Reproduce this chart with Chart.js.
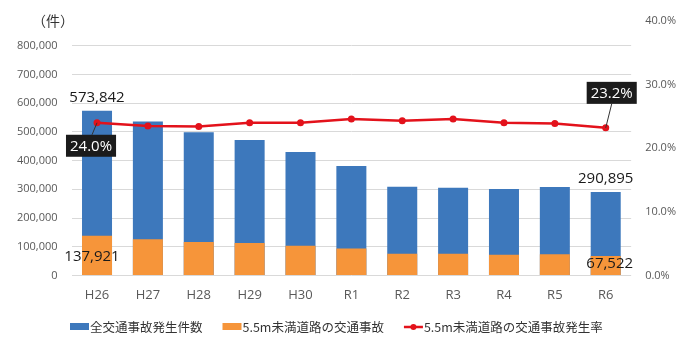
<!DOCTYPE html>
<html>
<head>
<meta charset="utf-8">
<script src="https://cdn.jsdelivr.net/npm/chart.js@4"></script>
<style>
  html, body { margin: 0; padding: 0; background: #fff; }
  #wrap { width: 690px; height: 354px; }
</style>
</head>
<body>
<div id="wrap"><canvas id="c" width="690" height="354"></canvas></div>
<script>
// 年度別 交通事故件数と5.5m未満道路の割合

const years = ['H26', 'H27', 'H28', 'H29', 'H30', 'R1', 'R2', 'R3', 'R4', 'R5', 'R6'];
const allAccidents = [573842, 536899, 499201, 472165, 430601, 381237, 309178, 305196, 300839, 307930, 290895];
const narrowRoadAccidents = [137921, 126200, 116800, 113300, 103300, 93800, 75100, 75100, 72200, 73600, 67522];
const narrowRoadRate = [24.0, 23.5, 23.4, 24.0, 24.0, 24.6, 24.3, 24.6, 24.0, 23.9, 23.2];
const leftTicks = [0, 100000, 200000, 300000, 400000, 500000, 600000, 700000, 800000];
const rightTicks = [0, 10, 20, 30, 40];

const BLUE = '#3D78BC';
const ORANGE = '#F6953A';
const RED = '#E3121B';
const FONT = "'Open Sans', 'Noto Sans CJK JP', sans-serif";
const JP_FONT = "'Noto Sans CJK JP', sans-serif";

const fmt = n => n.toLocaleString('en-US');

// 数値ラベル・凡例・単位表示
const extrasPlugin = {
    id: 'extras',
    afterDatasetsDraw(chart) {
        const ctx = chart.ctx;
        const blue = chart.getDatasetMeta(0).data;
        const orange = chart.getDatasetMeta(1).data;
        const pts = chart.getDatasetMeta(2).data;
        const first = 0;
        const last = years.length - 1;

        ctx.save();
        ctx.textAlign = 'center';
        ctx.textBaseline = 'middle';
        ctx.fillStyle = '#1a1a1a';
        ctx.font = '15px ' + FONT;
        ctx.fillText(fmt(allAccidents[first]), blue[first].x, blue[first].y - 13);
        ctx.fillText(fmt(allAccidents[last]), blue[last].x, blue[last].y - 13);
        const oc0 = (orange[first].y + orange[first].base) / 2;
        const ocN = (orange[last].y + orange[last].base) / 2;
        ctx.fillText(fmt(narrowRoadAccidents[first]), orange[first].x - 5, oc0 + 1);
        ctx.fillText(fmt(narrowRoadAccidents[last]), orange[last].x + 4, ocN - 2);

        // 発生率ラベル（黒背景）
        const drawBox = (text, cx, cy, px, py, ax, ay) => {
            ctx.strokeStyle = '#333';
            ctx.lineWidth = 1;
            ctx.beginPath();
            ctx.moveTo(ax, ay);
            ctx.lineTo(px, py);
            ctx.stroke();
            ctx.font = '15px ' + FONT;
            const w = ctx.measureText(text).width + 8;
            const h = 22;
            ctx.fillStyle = '#1b1b1b';
            ctx.fillRect(cx - w / 2, cy - h / 2, w, h);
            ctx.fillStyle = '#fff';
            ctx.fillText(text, cx, cy + 1);
        };
        const p0 = pts[first];
        drawBox(narrowRoadRate[first].toFixed(1) + '%', p0.x - 6, p0.y + 23, p0.x, p0.y, p0.x - 5, p0.y + 12);
        const pN = pts[last];
        drawBox(narrowRoadRate[last].toFixed(1) + '%', pN.x + 6, pN.y - 35, pN.x, pN.y, pN.x + 6, pN.y - 24);

        // 単位
        ctx.fillStyle = '#333';
        ctx.font = '14px ' + JP_FONT;
        ctx.textAlign = 'left';
        ctx.fillText('（件）', 32, 21);

        // 凡例
        const legendY = 327;
        let x = 70;
        ctx.font = '12.5px ' + JP_FONT;
        ctx.textAlign = 'left';
        const items = [
            { label: chart.data.datasets[0].label, type: 'bar', color: BLUE },
            { label: chart.data.datasets[1].label, type: 'bar', color: ORANGE },
            { label: chart.data.datasets[2].label, type: 'line', color: RED }
        ];
        items.forEach(it => {
            if (it.type === 'bar') {
                ctx.fillStyle = it.color;
                ctx.fillRect(x, legendY - 4, 19, 7);
            } else {
                ctx.strokeStyle = it.color;
                ctx.lineWidth = 2.5;
                ctx.beginPath();
                ctx.moveTo(x, legendY);
                ctx.lineTo(x + 19, legendY);
                ctx.stroke();
                ctx.fillStyle = it.color;
                ctx.beginPath();
                ctx.arc(x + 9.5, legendY, 3, 0, Math.PI * 2);
                ctx.fill();
            }
            x += 20;
            ctx.fillStyle = '#333';
            ctx.fillText(it.label, x, legendY);
            x += ctx.measureText(it.label).width + 20;
        });
        ctx.restore();
    }
};

new Chart(document.getElementById('c').getContext('2d'), {
    type: 'bar',
    data: {
        labels: years,
        datasets: [
            {
                label: '全交通事故発生件数',
                data: allAccidents,
                backgroundColor: BLUE,
                yAxisID: 'y',
                order: 2,
                barPercentage: 0.59,
                categoryPercentage: 1
            },
            {
                label: '5.5m未満道路の交通事故',
                data: narrowRoadAccidents,
                backgroundColor: ORANGE,
                yAxisID: 'y',
                order: 1,
                barPercentage: 0.59,
                categoryPercentage: 1
            },
            {
                type: 'line',
                label: '5.5m未満道路の交通事故発生率',
                data: narrowRoadRate,
                borderColor: RED,
                backgroundColor: RED,
                borderWidth: 2.5,
                pointRadius: 3.5,
                pointBackgroundColor: RED,
                pointBorderWidth: 0,
                tension: 0,
                yAxisID: 'y1',
                order: 0
            }
        ]
    },
    options: {
        responsive: false,
        animation: false,
        layout: {
            padding: { left: 3, right: 0, top: 21, bottom: 39 }
        },
        scales: {
            x: {
                stacked: true,
                grid: { display: false, drawTicks: false },
                border: { display: false },
                ticks: { color: '#595959', font: { size: 13, family: FONT }, padding: 12 }
            },
            y: {
                stacked: false,
                min: 0,
                max: 887000,
                afterBuildTicks: axis => {
                    axis.ticks = leftTicks.map(v => ({ value: v }));
                },
                grid: { color: '#D9D9D9', lineWidth: 1, drawTicks: false },
                border: { display: false },
                ticks: {
                    color: '#595959',
                    font: { size: 11, family: FONT },
                    padding: 14,
                    callback: v => fmt(v)
                }
            },
            y1: {
                position: 'right',
                min: 0,
                max: 40,
                afterBuildTicks: axis => {
                    axis.ticks = rightTicks.map(v => ({ value: v }));
                },
                grid: { display: false, drawTicks: false },
                border: { display: false },
                ticks: {
                    color: '#595959',
                    font: { size: 11, family: FONT },
                    padding: 14,
                    callback: v => v.toFixed(1) + '%'
                }
            }
        },
        plugins: {
            legend: { display: false },
            tooltip: { enabled: false }
        }
    },
    plugins: [extrasPlugin]
});
</script>
</body>
</html>
